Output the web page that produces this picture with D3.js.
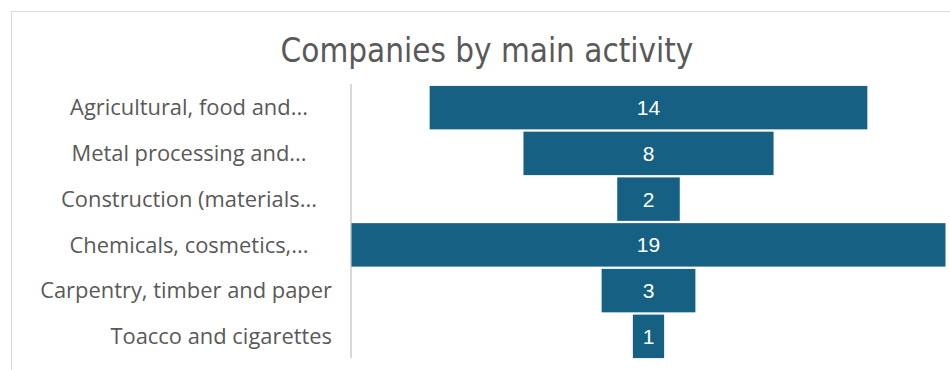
<!DOCTYPE html>
<html>
<head>
<meta charset="utf-8">
<script src="https://cdn.jsdelivr.net/npm/d3@7"></script>
<style>
  html, body { margin: 0; padding: 0; background: #ffffff; }
  svg { display: block; }
</style>
</head>
<body>
<svg id="chart" width="950" height="370"></svg>
<script>
// Funnel data: activity categories (top to bottom) and company counts
const categories = [
  "Agricultural, food and...",
  "Metal processing and...",
  "Construction (materials...",
  "Chemicals, cosmetics,...",
  "Carpentry, timber and paper",
  "Toacco and cigarettes"
];
const counts = [14, 8, 2, 19, 3, 1];
const chartTitle = "Companies by main activity";

const svg = d3.select("#chart");
const W = 950, H = 370;

// chart frame
svg.append("rect")
  .attr("x", 11.5).attr("y", 11.5)
  .attr("width", W).attr("height", H)
  .attr("fill", "#ffffff")
  .attr("stroke", "#d9d9d9").attr("stroke-width", 1);

// title
const title = svg.append("text")
  .attr("x", 487).attr("y", 62)
  .attr("text-anchor", "middle")
  .attr("font-family", "'Liberation Sans Narrow', 'DejaVu Sans Condensed', 'Open Sans', sans-serif")
  .attr("font-size", 31)
  .attr("fill", "#595959")
  .text(chartTitle);
// fit title to its intended width
const tw = title.node().getComputedTextLength();
title.attr("font-size", 31 * 413 / tw);

const plotLeft = 351, plotRight = 946;
const centerX = (plotLeft + plotRight) / 2;

const y = d3.scaleBand()
  .domain(categories)
  .range([85, 359])
  .paddingInner(0.05)
  .paddingOuter(0.02);

const w = d3.scaleLinear()
  .domain([0, d3.max(counts)])
  .range([0, plotRight - plotLeft - 1]);

// category axis line
svg.append("line")
  .attr("x1", plotLeft).attr("x2", plotLeft)
  .attr("y1", 84).attr("y2", 358)
  .attr("stroke", "#d9d9d9").attr("stroke-width", 2);

// category labels: truncated ones sit centred in the label column,
// full-length ones are right-aligned against the axis
const labelFont = "'Open Sans', 'Noto Sans', sans-serif";
const truncated = d => d.endsWith("...");
const labels = svg.append("g").selectAll("text")
  .data(categories)
  .join("text")
  .attr("x", d => truncated(d) ? 189 : 332)
  .attr("y", d => y(d) + y.bandwidth() / 2)
  .attr("dy", "0.35em")
  .attr("text-anchor", d => truncated(d) ? "middle" : "end")
  .attr("font-family", labelFont)
  .attr("font-size", 17)
  .attr("fill", "#595959")
  .text(d => d);
// scale label font so the longest label spans its measured width
const longest = labels.filter(d => d === "Carpentry, timber and paper").node().getComputedTextLength();
labels.attr("font-size", 17 * 292 / longest);

const rows = categories.map((c, i) => ({ cat: c, val: counts[i] }));

// funnel bars
svg.append("g").selectAll("rect")
  .data(rows)
  .join("rect")
  .attr("x", d => centerX - w(d.val) / 2)
  .attr("y", d => y(d.cat))
  .attr("width", d => w(d.val))
  .attr("height", y.bandwidth())
  .attr("fill", "#166083");

// value labels
svg.append("g").selectAll("text")
  .data(rows)
  .join("text")
  .attr("x", centerX)
  .attr("y", d => y(d.cat) + y.bandwidth() / 2)
  .attr("dy", "0.36em")
  .attr("text-anchor", "middle")
  .attr("font-family", "'Liberation Sans', Arial, sans-serif")
  .attr("font-size", 21)
  .attr("fill", "#ffffff")
  .text(d => d.val);
</script>
</body>
</html>
